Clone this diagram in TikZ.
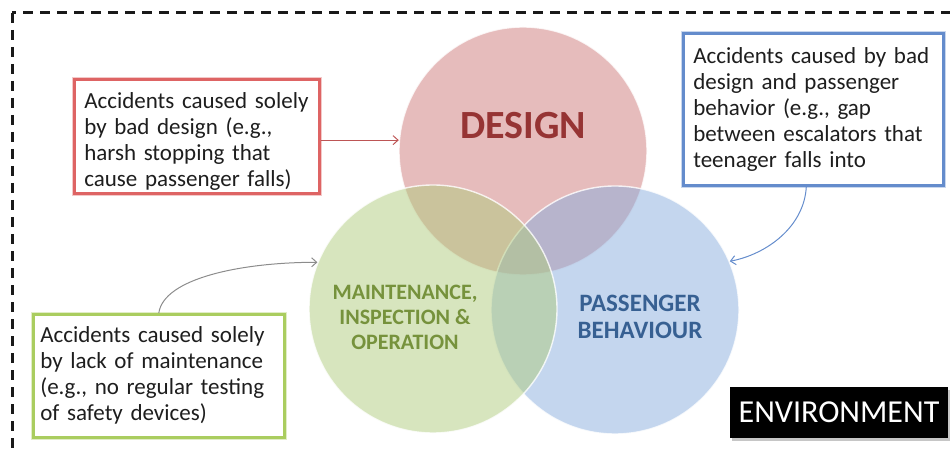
\documentclass[tikz,border=0pt]{standalone}
\usepackage{fontspec}
\setmainfont{Carlito}
\usetikzlibrary{arrows.meta,shadows}

% circle fills (drawn half transparent)
\definecolor{designfill}{RGB}{205,121,121}
\definecolor{maintfill}{RGB}{175,203,125}
\definecolor{passfill}{RGB}{137,173,221}
% circle titles
\definecolor{designtext}{RGB}{150,52,52}
\definecolor{mainttext}{RGB}{118,146,60}
\definecolor{passtext}{RGB}{55,96,146}
% call-out boxes and their connectors
\definecolor{redline}{RGB}{222,100,100}
\definecolor{greenline}{RGB}{170,205,95}
\definecolor{blueline}{RGB}{100,140,204}
\definecolor{bodytext}{RGB}{30,30,30}

\begin{document}
\begin{tikzpicture}[x=1bp,y=-1bp,
  venn/.style={circle,minimum size=248bp,inner sep=0pt,fill opacity=0.5,
    draw=white,draw opacity=0.8,line width=1.4bp},
  callout/.style={rectangle,fill=white,line width=2.6bp,align=left,
    text=bodytext,inner xsep=10bp,
    font=\fontsize{23bp}{26bp}\selectfont},
  glow/.style={preaction={draw=#1!35,line width=5bp}},
  title/.style={align=center,font=\bfseries\fontsize{#1bp}{#1bp}\selectfont},
  link/.style={line width=1bp,-{Straight Barb[length=5bp,width=9bp]}},
  frame/.style={draw=black!90,line width=3bp,dash pattern=on 10bp off 7bp}]

\useasboundingbox (0,0) rectangle (950,450);
\clip (0,0) rectangle (950,450);

% environment frame (runs past the right and bottom edges)
\draw[frame] (12,13) rectangle (975,480);

% the three overlapping areas
\node[venn,fill=designfill] (design) at (523,151) {};
\node[venn,fill=passfill]   (pass)   at (615,310) {};
\node[venn,fill=maintfill]  (maint)  at (433,309) {};

\node[title=40,text=designtext] (designlbl) at (523,126) {DESIGN};
\node[title=22,text=mainttext,font=\bfseries\fontsize{22bp}{25bp}\selectfont]
  (maintlbl) at (405,317) {MAINTENANCE,\\INSPECTION \&\\OPERATION};
\node[title=25,text=passtext,font=\bfseries\fontsize{25bp}{27bp}\selectfont]
  (passlbl) at (640,317) {PASSENGER\\BEHAVIOUR};

% call-out boxes
\node[callout,draw=redline,glow=redline,anchor=north west,text width=225bp,
  minimum height=114bp,inner ysep=3bp] (redbox) at (73,78)
  {\rule{0pt}{26bp}Accidents caused solely\\by bad design (e.g.,\\harsh stopping that\\cause passenger falls)};
\node[callout,draw=blueline,glow=blueline,anchor=north west,text width=240bp,
  minimum height=152bp] (bluebox) at (682,32)
  {Accidents caused by bad\\design and passenger\\behavior (e.g., gap\\between escalators that\\teenager falls into};
\node[callout,draw=greenline,glow=greenline,anchor=north west,text width=237bp,
  minimum height=123bp,inner xsep=7bp] (greenbox) at (32,313)
  {Accidents caused solely\\by lack of maintenance\\(e.g., no regular testing\\of safety devices)};

% connectors
\draw[link,draw=redline!85!black] (redbox.east |- design.175) -- (design.175);
\draw[link,draw=black!45] (greenbox.north) .. controls +(5,-35) and +(-75,0) .. (maint.158);
\draw[link,draw=blueline] ([xshift=-7bp]bluebox.south) .. controls +(-2,40) and +(37,-7) .. (pass.23);

% environment tag
\node[fill=black,text=white,minimum width=218bp,minimum height=51bp,
  font=\fontsize{32bp}{32bp}\selectfont,
  drop shadow={shadow xshift=2bp,shadow yshift=-3bp,opacity=0.45}]
  (env) at (839,412.5) {ENVIRONMENT};
\end{tikzpicture}
\end{document}
